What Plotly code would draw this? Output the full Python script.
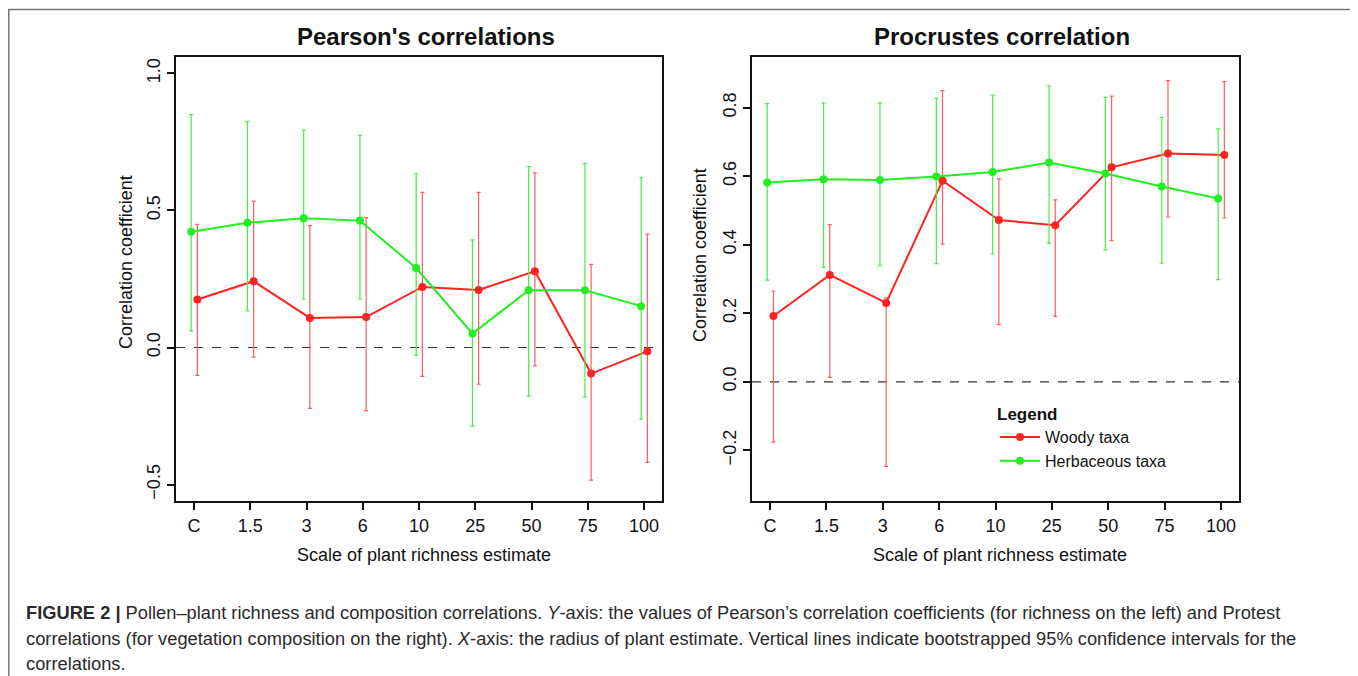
import plotly.graph_objects as go

# ---------------- data ----------------
scales = ["C", "1.5", "3", "6", "10", "25", "50", "75", "100"]

# Pearson's correlations (left panel)
pear_woody = [0.175, 0.242, 0.108, 0.111, 0.221, 0.210, 0.278, -0.095, -0.014]
pear_woody_lo = [-0.102, -0.035, -0.222, -0.230, -0.105, -0.134, -0.067, -0.484, -0.419]
pear_woody_hi = [0.449, 0.534, 0.445, 0.474, 0.566, 0.566, 0.637, 0.303, 0.414]

pear_herb = [0.422, 0.455, 0.472, 0.463, 0.290, 0.051, 0.209, 0.209, 0.151]
pear_herb_lo = [0.061, 0.134, 0.177, 0.177, -0.029, -0.287, -0.177, -0.181, -0.261]
pear_herb_hi = [0.850, 0.825, 0.793, 0.774, 0.635, 0.393, 0.660, 0.672, 0.620]

# Procrustes correlation (right panel)
proc_woody = [0.192, 0.312, 0.230, 0.587, 0.472, 0.457, 0.626, 0.666, 0.662]
proc_woody_lo = [-0.176, 0.013, -0.247, 0.402, 0.167, 0.191, 0.412, 0.481, 0.478]
proc_woody_hi = [0.265, 0.459, 0.245, 0.850, 0.592, 0.531, 0.834, 0.879, 0.876]

proc_herb = [0.582, 0.591, 0.589, 0.599, 0.612, 0.640, 0.608, 0.570, 0.535]
proc_herb_lo = [0.297, 0.334, 0.339, 0.345, 0.373, 0.404, 0.385, 0.346, 0.298]
proc_herb_hi = [0.812, 0.814, 0.814, 0.827, 0.837, 0.864, 0.830, 0.772, 0.738]

# ---------------- styling ----------------
OFF = 8                      # page body margin
W, H = 1358 - OFF, 676 - OFF
FONT = "Liberation Sans, Arial, sans-serif"
RED, RED_ERR = "#ff2222", "#ff5c5c"
GREEN, GREEN_ERR = "#22ee22", "#44ee44"
idx = list(range(len(scales)))


def px(x):
    return (x - OFF) / W


def py(y):
    return 1 - (y - OFF) / H


fig = go.Figure()


def add_series(vals, lo, hi, color, ecolor, name, offset, xa, ya, show):
    fig.add_trace(go.Scatter(
        x=[i + offset for i in idx], y=vals,
        mode="lines+markers", name=name, showlegend=show,
        line=dict(color=color, width=2),
        marker=dict(color=color, size=8),
        error_y=dict(type="data", symmetric=False,
                     array=[h - v for h, v in zip(hi, vals)],
                     arrayminus=[v - l for l, v in zip(lo, vals)],
                     color=ecolor, thickness=1.2, width=2),
        xaxis=xa, yaxis=ya))


add_series(pear_woody, pear_woody_lo, pear_woody_hi, RED, RED_ERR, "Woody taxa", 0.06, "x", "y", False)
add_series(pear_herb, pear_herb_lo, pear_herb_hi, GREEN, GREEN_ERR, "Herbaceous taxa", -0.05, "x", "y", False)
add_series(proc_woody, proc_woody_lo, proc_woody_hi, RED, RED_ERR, "Woody taxa", 0.06, "x2", "y2", True)
add_series(proc_herb, proc_herb_lo, proc_herb_hi, GREEN, GREEN_ERR, "Herbaceous taxa", -0.05, "x2", "y2", True)

ydom = [py(501), py(57)]
common_x = dict(range=[-0.32, 8.32], tickmode="array", tickvals=idx, ticktext=scales,
                showline=True, mirror=True, linecolor="#111", linewidth=2,
                ticks="outside", ticklen=7, tickwidth=1.5, tickcolor="#111",
                showgrid=False, zeroline=False,
                tickfont=dict(family=FONT, size=18, color="#111"))
common_y = dict(showline=True, mirror=True, linecolor="#111", linewidth=2,
                ticks="outside", ticklen=7, tickwidth=1.5, tickcolor="#111",
                showgrid=False, zeroline=False, tickangle=-90, tickformat=".1f",
                tickfont=dict(family=FONT, size=18, color="#111"))

fig.update_layout(
    width=W, height=H,
    margin=dict(l=0, r=0, t=0, b=0),
    paper_bgcolor="white", plot_bgcolor="white",
    font=dict(family=FONT, color="#111"),
    xaxis=dict(domain=[px(176), px(662)], anchor="y", **common_x),
    yaxis=dict(domain=ydom, anchor="x", range=[-0.56, 1.06],
               tickvals=[-0.5, 0, 0.5, 1.0], **common_y),
    xaxis2=dict(domain=[px(752), px(1239)], anchor="y2", **common_x),
    yaxis2=dict(domain=ydom, anchor="x2", range=[-0.348, 0.948],
                tickvals=[-0.2, 0, 0.2, 0.4, 0.6, 0.8], **common_y),
    legend=dict(x=px(995), y=py(398), xanchor="left", yanchor="top",
                bgcolor="rgba(0,0,0,0)", borderwidth=0,
                font=dict(family=FONT, size=16, color="#111"),
                title=dict(text="<b>Legend</b>", font=dict(family=FONT, size=17, color="#111"), side="top"),
                tracegroupgap=0, itemwidth=40),
    showlegend=True,
)

# zero dashed lines
for xr, yr in (("x domain", "y"), ("x2 domain", "y2")):
    fig.add_shape(type="line", xref=xr, yref=yr, x0=0, x1=1, y0=0, y1=0,
                  line=dict(color="#333", width=1.2, dash="dash"), layer="below")

# outer frame
fig.add_shape(type="rect", xref="paper", yref="paper",
              x0=px(8.8), x1=px(1355), y0=py(700), y1=py(9.5),
              line=dict(color="#777", width=1.5))

ann = []
# panel titles
ann.append(dict(text="<b>Pearson's correlations</b>", x=px(426), y=py(36),
                font=dict(size=24)))
ann.append(dict(text="<b>Procrustes correlation</b>", x=px(1002), y=py(36),
                font=dict(size=24)))
# axis titles
ann.append(dict(text="Scale of plant richness estimate", x=px(424), y=py(555), font=dict(size=18)))
ann.append(dict(text="Scale of plant richness estimate", x=px(1000), y=py(555), font=dict(size=18)))
ann.append(dict(text="Correlation coefficient", x=px(126), y=py(262), textangle=-90, font=dict(size=18)))
ann.append(dict(text="Correlation coefficient", x=px(700), y=py(255), textangle=-90, font=dict(size=18)))
# caption
cap = [
    "<b>FIGURE 2 |</b> Pollen–plant richness and composition correlations. <i>Y</i>-axis: the values of Pearson’s correlation coefficients (for richness on the left) and Protest",
    "correlations (for vegetation composition on the right). <i>X</i>-axis: the radius of plant estimate. Vertical lines indicate bootstrapped 95% confidence intervals for the",
    "correlations.",
]
for t, yy in zip(cap, (612, 638, 663)):
    ann.append(dict(text=t, x=px(24), y=py(yy), xanchor="left",
                    font=dict(size=18.3, color="#2a2a2a")))

for a in ann:
    a.setdefault("xanchor", "center")
    a["yanchor"] = "middle"
    a["xref"] = "paper"
    a["yref"] = "paper"
    a["showarrow"] = False
    f = a.get("font", {})
    f.setdefault("family", FONT)
    f.setdefault("color", "#111")
    a["font"] = f
    fig.add_annotation(**a)

fig.write_html("out.html")
